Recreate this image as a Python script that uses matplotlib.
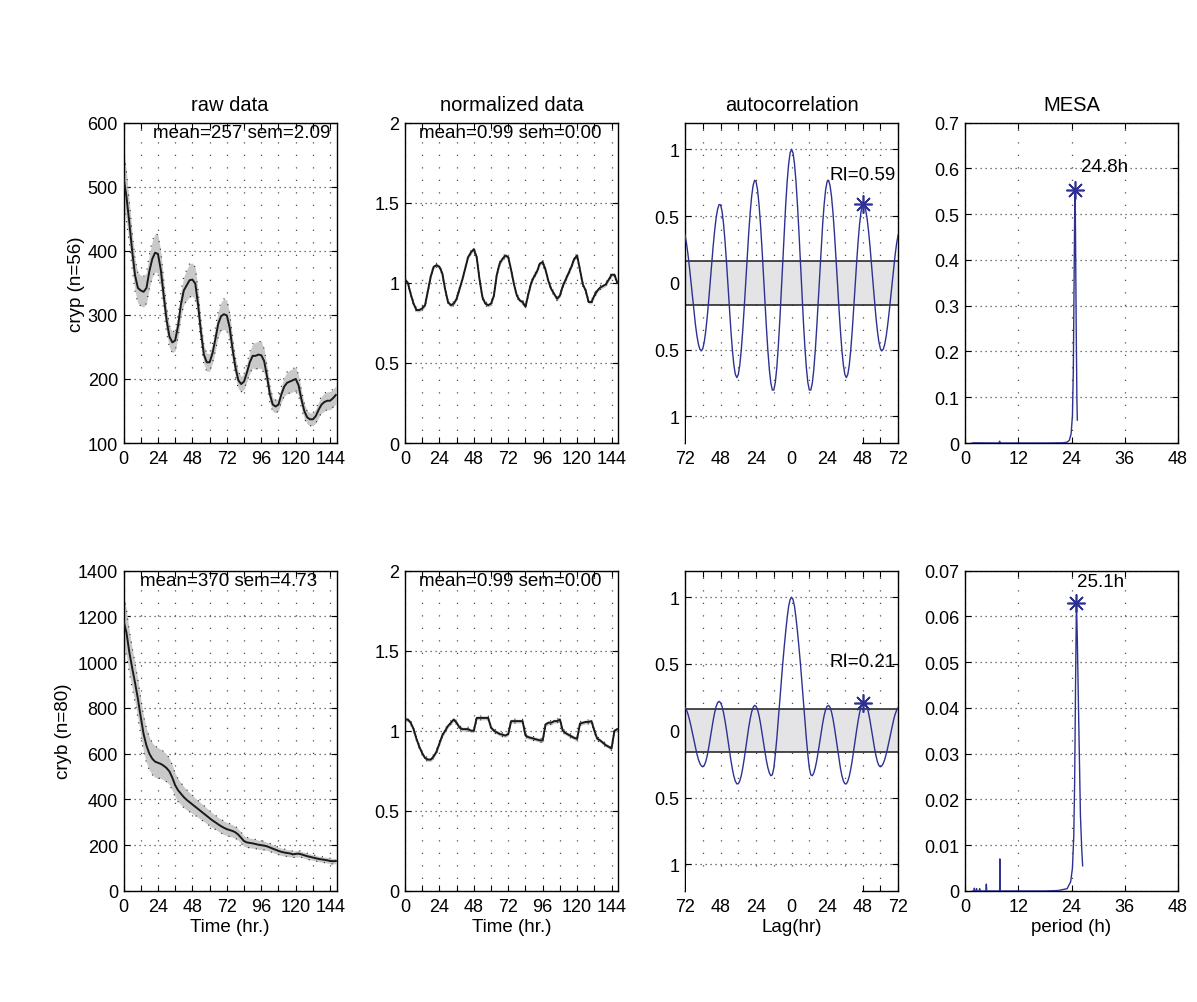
import numpy as np
import matplotlib
matplotlib.use("Agg")
import matplotlib.pyplot as plt
from matplotlib.patches import Rectangle

plt.rcParams["font.family"] = ["Liberation Sans", "DejaVu Sans"]

# ---- data ------------------------------------------------------------------
TIME = np.arange(0, 149, 2)  # hours, one sample every 2 h

CRYP_RAW = [
    515, 485, 445, 400, 362, 342, 338, 336, 342, 368,
    387, 397, 395, 370, 330, 292, 266, 257, 260, 283,
    316, 338, 346, 354, 355, 349, 315, 272, 238, 226,
    226, 240, 262, 286, 298, 301, 299, 280, 246, 218,
    198, 192, 196, 210, 226, 236, 236, 238, 237, 228,
    204, 176, 160, 157, 160, 176, 188, 194, 196, 198,
    200, 190, 168, 150, 140, 137, 137, 142, 152, 160,
    164, 166, 166, 170, 175,
]
CRYP_RAW_SD = [
    45, 38, 32, 28, 25, 24, 24, 24, 24, 26,
    28, 30, 30, 28, 24, 20, 17, 16, 16, 18,
    20, 22, 24, 26, 26, 25, 22, 18, 15, 14,
    14, 15, 18, 20, 22, 24, 24, 22, 18, 15,
    13, 12, 12, 14, 17, 19, 21, 21, 21, 19,
    16, 13, 11, 10, 10, 12, 15, 17, 18, 18,
    18, 16, 14, 12, 10, 10, 10, 11, 12, 13,
    14, 14, 14, 14, 14,
]
CRYB_RAW = [
    1180, 1130, 1045, 975, 910, 840, 760, 685, 635, 600,
    578, 565, 560, 555, 547, 537, 522, 495, 462, 440,
    425, 410, 398, 388, 378, 368, 358, 348, 338, 328,
    318, 308, 300, 291, 283, 276, 270, 266, 262, 256,
    246, 232, 218, 212, 210, 208, 205, 202, 200, 198,
    195, 190, 185, 180, 175, 171, 168, 166, 164, 160,
    162, 163, 160, 156, 152, 149, 146, 143, 140, 138,
    136, 134, 131, 130, 131,
]
CRYB_RAW_SD = [
    110, 100, 92, 88, 85, 82, 80, 78, 75, 72,
    70, 68, 66, 64, 62, 60, 58, 55, 52, 50,
    48, 46, 44, 42, 40, 38, 37, 36, 35, 34,
    33, 32, 31, 30, 30, 29, 29, 28, 27, 26,
    25, 24, 23, 22, 21, 21, 20, 20, 19, 19,
    18, 18, 17, 17, 16, 16, 15, 15, 15, 14,
    14, 14, 13, 13, 13, 13, 12, 12, 12, 12,
    12, 12, 12, 12, 12,
]
CRYP_NORM = [
    1.02, 1.00, 0.93, 0.87, 0.83, 0.83, 0.84, 0.86, 0.95, 1.04,
    1.10, 1.11, 1.10, 1.06, 0.96, 0.88, 0.86, 0.87, 0.90, 0.96,
    1.02, 1.09, 1.16, 1.19, 1.21, 1.16, 1.02, 0.91, 0.87, 0.86,
    0.87, 0.92, 1.05, 1.12, 1.15, 1.17, 1.16, 1.08, 0.99, 0.92,
    0.89, 0.88, 0.85, 0.93, 1.00, 1.04, 1.07, 1.12, 1.13, 1.08,
    1.01, 0.96, 0.93, 0.90, 0.92, 0.98, 1.02, 1.06, 1.10, 1.15,
    1.17, 1.08, 0.99, 0.95, 0.88, 0.88, 0.92, 0.95, 0.97, 0.98,
    0.99, 1.02, 1.05, 1.05, 1.00,
]
CRYB_NORM = [
    1.07, 1.07, 1.05, 1.01, 0.95, 0.90, 0.86, 0.83, 0.82, 0.82,
    0.84, 0.87, 0.92, 0.97, 1.00, 1.03, 1.05, 1.07, 1.05, 1.02,
    1.01, 1.01, 1.01, 1.00, 1.00, 1.08, 1.08, 1.08, 1.08, 1.08,
    1.02, 1.00, 0.99, 0.98, 0.975, 0.97, 0.98, 1.06, 1.06, 1.06,
    1.06, 1.06, 0.97, 0.96, 0.955, 0.95, 0.945, 0.94, 0.94, 1.04,
    1.05, 1.05, 1.06, 1.06, 1.07, 1.00, 0.985, 0.975, 0.965, 0.955,
    0.95, 1.045, 1.05, 1.055, 1.055, 1.06, 1.00, 0.95, 0.94, 0.925,
    0.91, 0.90, 0.89, 1.00, 1.01,
]
NORM_SD = 0.012

# autocorrelation, lags 0..72 h, one value per hour (symmetric around 0)
LAG_HALF = np.arange(0, 73)
CRYP_ACF_HALF = [
    1.000, 0.972, 0.888, 0.755, 0.580, 0.375, 0.152, -0.074, -0.291, -0.482,
    -0.637, -0.747, -0.803, -0.803, -0.752, -0.652, -0.510, -0.337, -0.142, 0.061,
    0.259, 0.437, 0.586, 0.696, 0.757, 0.768, 0.729, 0.646, 0.522, 0.367,
    0.189, 0.002, -0.185, -0.356, -0.504, -0.615, -0.686, -0.710, -0.686, -0.616,
    -0.503, -0.359, -0.192, -0.016, 0.158, 0.314, 0.444, 0.537, 0.584, 0.586,
    0.551, 0.485, 0.390, 0.274, 0.143, 0.005, -0.130, -0.255, -0.361, -0.442,
    -0.493, -0.510, -0.497, -0.458, -0.395, -0.311, -0.213, -0.105, 0.005, 0.113,
    0.211, 0.295, 0.358,
]
CRYB_ACF_HALF = [
    1.000, 0.982, 0.930, 0.845, 0.740, 0.625, 0.500, 0.360, 0.220, 0.080,
    -0.060, -0.180, -0.280, -0.330, -0.337, -0.317, -0.278, -0.224, -0.158, -0.086,
    -0.013, 0.055, 0.114, 0.158, 0.183, 0.190, 0.175, 0.140, 0.088, 0.022,
    -0.054, -0.133, -0.210, -0.279, -0.336, -0.376, -0.397, -0.398, -0.378, -0.341,
    -0.287, -0.222, -0.148, -0.070, 0.006, 0.076, 0.136, 0.182, 0.210, 0.220,
    0.210, 0.181, 0.135, 0.077, 0.010, -0.060, -0.127, -0.185, -0.231, -0.260,
    -0.270, -0.263, -0.244, -0.214, -0.173, -0.125, -0.072, -0.018, 0.035, 0.083,
    0.124, 0.154, 0.173,
]
ACF_CI = [0.165, 0.162]
RI_LAG = [48.5, 48.5]
RI_VALUE = [0.59, 0.21]

# MESA spectra
CRYP_MESA_PERIOD = [1.6, 2.0, 7.6, 7.8, 8.0, 12.0, 18.0, 22.0, 23.0, 23.5, 23.9,
                    24.2, 24.4, 24.55, 24.7, 24.8, 24.9, 25.05, 25.2, 25.3]
CRYP_MESA_POWER = [0, 0.0005, 0, 0.004, 0, 0, 0, 0.0005, 0.002, 0.006, 0.02,
                   0.06, 0.16, 0.33, 0.50, 0.553, 0.45, 0.25, 0.10, 0.05]
CRYB_MESA_PERIOD = [1.7, 2.0, 2.1, 2.2, 2.5, 2.6, 2.7, 3.2, 3.3, 3.4, 4.7, 4.8, 4.9,
                    7.8, 7.85, 7.9, 12.0, 18.0, 21.0, 23.0, 23.8, 24.2, 24.5, 24.7,
                    24.9, 25.1, 25.3, 25.6, 26.0, 26.3, 26.5]
CRYB_MESA_POWER = [0, 0, 0.0006, 0, 0, 0.0005, 0, 0, 0.0005, 0, 0, 0.0015, 0,
                   0, 0.007, 0, 0, 0, 0.0001, 0.0005, 0.002, 0.005, 0.012, 0.024,
                   0.045, 0.063, 0.055, 0.038, 0.0165, 0.009, 0.0055]
MESA_PEAK = [(24.8, 0.553, "24.8h"), (25.1, 0.063, "25.1h")]

STATS_RAW = ["mean=257 sem=2.09", "mean=370 sem=4.73"]
STATS_NORM = ["mean=0.99 sem=0.00", "mean=0.99 sem=0.00"]
ROW_LABELS = ["cryp (n=56)", "cryb (n=80)"]

# ---- drawing ---------------------------------------------------------------
BLUE = "#2e3192"
BAND = "#c9c9c9"
TICK_FS = 13
TEXT_FS = 13.5
ASTERISK = (8, 2, 0)

fig = plt.figure(figsize=(11.97, 10.03), dpi=100)

LEFTS = [0.1032, 0.3383, 0.5723, 0.8062]
WIDTH = 0.178
BOTTOMS = [0.5573, 0.1107]
HEIGHT = 0.3195

time_ticks = np.arange(0, 145, 12)
time_labels = [str(t) if t % 24 == 0 else "" for t in time_ticks]
lag_ticks = np.arange(-72, 73, 12)
lag_labels = [str(abs(t)) if t % 24 == 0 else "" for t in lag_ticks]


def style(ax, xticks, xlabels, yticks, ylabels):
    ax.set_xticks(xticks)
    ax.set_xticklabels(xlabels)
    ax.set_yticks(yticks)
    ax.set_yticklabels(ylabels)
    ax.tick_params(direction="in", top=True, right=True, length=4, width=0.8,
                   labelsize=TICK_FS)
    ax.tick_params(axis="x", pad=5)
    ax.tick_params(axis="y", pad=4)
    ax.grid(True, axis="x", linestyle=(0, (1, 9)), linewidth=0.9, color="0.3")
    ax.grid(True, axis="y", linestyle=(0, (1, 3)), linewidth=0.9, color="0.3")
    ax.set_axisbelow(True)
    for sp in ax.spines.values():
        sp.set_linewidth(1.0)


def time_panel(ax, mean, sd):
    mean = np.asarray(mean, float)
    sd = np.asarray(sd, float)
    ax.fill_between(TIME, mean - sd, mean + sd, color=BAND, lw=0, zorder=1)
    for edge in (mean - sd, mean + sd):
        ax.plot(TIME, edge, color="0.15", lw=0.8, ls=(0, (1, 6)), zorder=2)
    ax.plot(TIME, mean, color="0.1", lw=1.4, zorder=3)
    ax.set_xlim(0, 148.5)


for row in range(2):
    bottom = BOTTOMS[row]
    axes = [fig.add_axes([l, bottom, WIDTH, HEIGHT]) for l in LEFTS]
    ax_raw, ax_norm, ax_acf, ax_mesa = axes

    # raw data
    raw, raw_sd = (CRYP_RAW, CRYP_RAW_SD) if row == 0 else (CRYB_RAW, CRYB_RAW_SD)
    time_panel(ax_raw, raw, raw_sd)
    if row == 0:
        ax_raw.set_ylim(100, 600)
        yt = np.arange(100, 601, 100)
        stats_x = 0.14
    else:
        ax_raw.set_ylim(0, 1400)
        yt = np.arange(0, 1401, 200)
        stats_x = 0.078
    style(ax_raw, time_ticks, time_labels, yt, [str(v) for v in yt])
    ax_raw.text(stats_x, 0.968, STATS_RAW[row], transform=ax_raw.transAxes,
                fontsize=TEXT_FS, ha="left", va="center")
    ax_raw.set_ylabel(ROW_LABELS[row], fontsize=TEXT_FS)
    ax_raw.yaxis.set_label_coords(-0.18 if row == 0 else -0.24, 0.5)

    # normalized data
    norm = CRYP_NORM if row == 0 else CRYB_NORM
    time_panel(ax_norm, norm, np.full(len(TIME), NORM_SD))
    ax_norm.set_ylim(0, 2)
    yt = [0, 0.5, 1, 1.5, 2]
    style(ax_norm, time_ticks, time_labels, yt, ["0", "0.5", "1", "1.5", "2"])
    ax_norm.text(0.066, 0.968, STATS_NORM[row], transform=ax_norm.transAxes,
                 fontsize=TEXT_FS, ha="left", va="center")

    # autocorrelation
    half = np.asarray(CRYP_ACF_HALF if row == 0 else CRYB_ACF_HALF)
    lags = np.concatenate([-LAG_HALF[::-1], LAG_HALF[1:]])
    acf = np.concatenate([half[::-1], half[1:]])
    ci = ACF_CI[row]
    ax_acf.axhspan(-ci, ci, color="#e4e4e6", lw=0, zorder=1)
    for y in (-ci, ci):
        ax_acf.axhline(y, color="0.1", lw=1.1, zorder=2)
    ax_acf.plot(lags, acf, color=BLUE, lw=1.0, zorder=3)
    ax_acf.plot(RI_LAG[row], RI_VALUE[row], marker=ASTERISK, ms=13, mew=1.2,
                color=BLUE, zorder=4)
    ax_acf.text(25.3, 0.81 if row == 0 else 0.515, "RI=%.2f" % RI_VALUE[row],
                fontsize=TEXT_FS, ha="left", va="center")
    ax_acf.set_xlim(-72, 72)
    ax_acf.set_ylim(-1.2, 1.2)
    style(ax_acf, lag_ticks, lag_labels, [-1, -0.5, 0, 0.5, 1],
          ["1", "0.5", "0", "0.5", "1"])
    # blank strip below -1 as in the original figure export
    ax_acf.add_patch(Rectangle((-71.5, -1.23), 119.0, 0.21, facecolor="white",
                               edgecolor="none", zorder=2.6, clip_on=False))

    # MESA
    period, power = ((CRYP_MESA_PERIOD, CRYP_MESA_POWER) if row == 0
                     else (CRYB_MESA_PERIOD, CRYB_MESA_POWER))
    ax_mesa.plot(period, power, color=BLUE, lw=1.0, zorder=3)
    px, py, plabel = MESA_PEAK[row]
    ax_mesa.plot(px, py, marker=ASTERISK, ms=13, mew=1.2, color=BLUE, zorder=4)
    ax_mesa.set_xlim(0, 48)
    if row == 0:
        ax_mesa.set_ylim(0, 0.7)
        yt = np.round(np.arange(0, 0.71, 0.1), 2)
        ax_mesa.text(26.2, 0.605, plabel, fontsize=TEXT_FS, ha="left", va="center")
    else:
        ax_mesa.set_ylim(0, 0.07)
        yt = np.round(np.arange(0, 0.071, 0.01), 3)
        ax_mesa.text(25.3, 0.0677, plabel, fontsize=TEXT_FS, ha="left", va="center")
    style(ax_mesa, [0, 12, 24, 36, 48], ["0", "12", "24", "36", "48"], yt,
          ["0"] + ["%g" % v for v in yt[1:]])

    if row == 0:
        for ax, title in zip(axes, ["raw data", "normalized data",
                                    "autocorrelation", "MESA"]):
            ax.set_title(title, fontsize=14.5, pad=9)
    else:
        for ax, lab in zip(axes, ["Time (hr.)", "Time (hr.)", "Lag(hr)",
                                  "period (h)"]):
            ax.set_xlabel(lab, fontsize=TEXT_FS, labelpad=2)

fig.savefig("out.png", dpi=100)
